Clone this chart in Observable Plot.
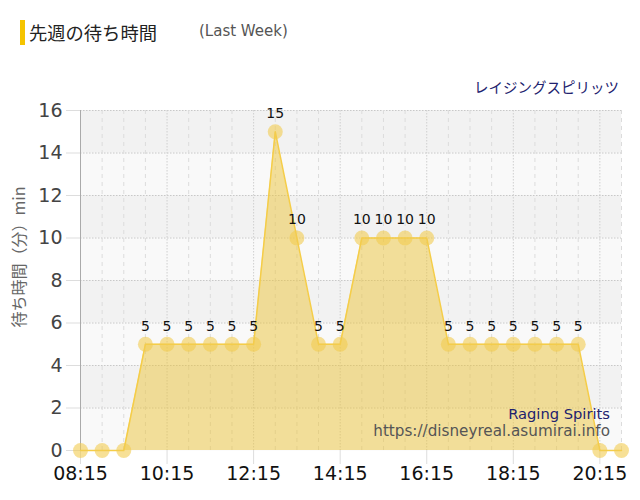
<!DOCTYPE html>
<html><head><meta charset="utf-8">
<script src="https://cdn.jsdelivr.net/npm/d3@7"></script>
<script src="https://cdn.jsdelivr.net/npm/@observablehq/plot@0.6"></script>
<style>
body{margin:0;background:#fff;font-family:"Noto Sans CJK JP","DejaVu Sans",sans-serif;}
#wrap{position:relative;width:640px;height:500px;}
.ov{position:absolute;white-space:nowrap;}
</style></head><body>
<div id="wrap">
<div id="chart"></div>
<div class="ov" style="left:20px;top:20px;width:5px;height:25px;background:#f5c400"></div>
<div class="ov" style="left:29px;top:19px;font-size:18.3px;line-height:26px;color:#222">先週の待ち時間</div>
<div class="ov" style="left:199px;top:20px;font-family:'DejaVu Sans';font-size:15px;line-height:22px;color:#555">(Last Week)</div>
<div class="ov" style="right:21px;top:77px;font-size:14.5px;line-height:20px;color:#22226e">レイジングスピリッツ</div>
<div class="ov" style="right:30px;top:404px;font-family:'DejaVu Sans';font-size:14.7px;line-height:20px;color:#22226e">Raging Spirits</div>
<div class="ov" style="right:30px;top:421px;font-family:'DejaVu Sans';font-size:15.2px;line-height:20px;color:#555">https://disneyreal.asumirai.info</div>
<div id="ylab" class="ov" style="left:18px;top:257px;font-size:16px;line-height:20px;color:#666;transform:translate(-50%,-50%) rotate(-90deg);"></div>
</div>
<script>
const times = ["08:15","08:45","09:15","09:45","10:15","10:45","11:15","11:45","12:15","12:45","13:15","13:45","14:15","14:45","15:15","15:45","16:15","16:45","17:15","17:45","18:15","18:45","19:15","19:45","20:15","20:45"];
const waits = [0,0,0,5,5,5,5,5,5,15,10,5,5,10,10,10,10,5,5,5,5,5,5,5,0,0];
const xTickLabels = ["08:15","10:15","12:15","14:15","16:15","18:15","20:15"];
const yTicks = [0,2,4,6,8,10,12,14,16];
const darkBands = [[2,4],[6,8],[10,12],[14,16]];
const yLabel = "待ち時間（分）min";

document.getElementById("ylab").textContent = yLabel;

const parse = s => new Date(Date.UTC(2000,0,1,+s.slice(0,2),+s.slice(3,5)));
const data = times.map((t,i)=>({t:parse(t), v:waits[i]}));
const tickDates = xTickLabels.map(parse);
const minorDates = times.map(parse).filter(d=>!tickDates.some(t=>+t===+d));
const bands = darkBands.map(([a,b])=>({a,b}));
const fmt = d3.utcFormat("%H:%M");

const chart = Plot.plot({
  width:640, height:500,
  marginLeft:80, marginRight:19, marginTop:110, marginBottom:50,
  style:{background:"transparent", overflow:"visible"},
  x:{type:"utc", domain:[parse("08:15"), parse("20:45")], ticks:tickDates, tickFormat:fmt, label:null},
  y:{domain:[0,16], ticks:yTicks, label:null},
  marks:[
    Plot.frame({fill:"#f9f9f9", stroke:null}),
    Plot.rect(bands,{x1:parse("08:15"), x2:parse("20:45"), y1:"a", y2:"b", fill:"#f2f2f2"}),
    Plot.ruleY(yTicks.filter(v=>v>0),{stroke:"#c8c8c8", strokeDasharray:"1.5,1.5", strokeWidth:1}),
    Plot.ruleX(minorDates,{stroke:"#dcdcdc", strokeDasharray:"4,4", strokeWidth:1}),
    Plot.ruleX(tickDates.slice(1),{stroke:"#cfcfcf", strokeDasharray:"1.5,1.5", strokeWidth:1}),
    Plot.axisX({ticks:tickDates, tickFormat:fmt, tickSize:14, tickPadding:2, stroke:"#ddd", fontSize:19, fill:"#111", fontFamily:"DejaVu Sans", label:null}),
    Plot.axisY({ticks:yTicks, tickSize:14, tickPadding:4, stroke:"#ddd", fontSize:19, fill:"#444", fontFamily:"DejaVu Sans", label:null}),
    Plot.ruleX([parse("08:15")],{stroke:"#aaa"}),
    Plot.areaY(data,{x:"t", y:"v", fill:"#ecc33a", fillOpacity:0.5}),
    Plot.lineY(data,{x:"t", y:"v", stroke:"#f5cd48", strokeWidth:1.5}),
    Plot.dot(data,{x:"t", y:"v", r:7.5, fill:"#f2cc50", fillOpacity:0.6, stroke:null}),
    Plot.text(data.filter(d=>d.v>0),{x:"t", y:"v", text:d=>String(d.v), dy:-18, fontSize:14, fill:"#111", fontFamily:"DejaVu Sans"})
  ]
});
document.getElementById("chart").appendChild(chart);
</script>
</body></html>
